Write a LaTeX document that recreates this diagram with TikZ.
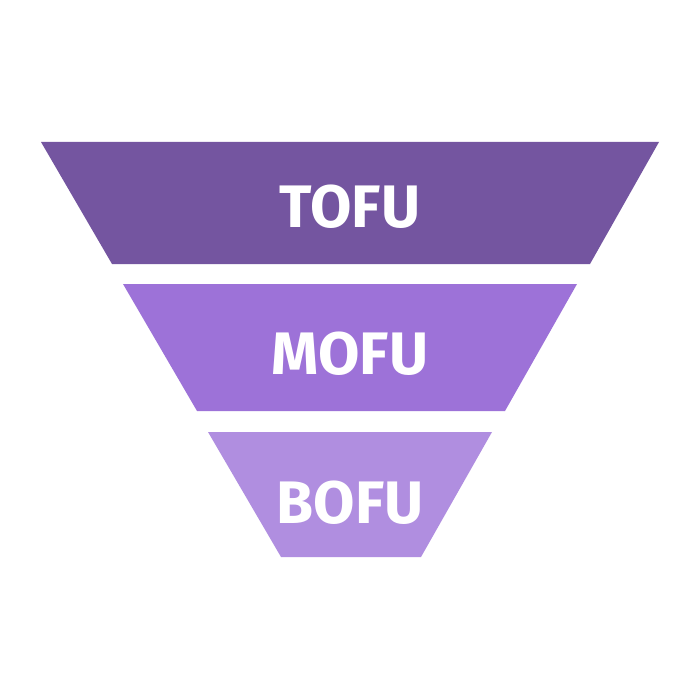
\documentclass[tikz,border=0pt]{standalone}
\usepackage{fontspec}
\setmainfont{Fira Sans}
\definecolor{tofu}{HTML}{7455A0}
\definecolor{mofu}{HTML}{9D72D8}
\definecolor{bofu}{HTML}{B08EE0}
\tikzset{
  stage/.style={text=white, font=\fontsize{60}{62}\selectfont\bfseries, inner sep=0pt},
}
\begin{document}
\begin{tikzpicture}[x=1pt, y=-1pt, line width=0pt]
\useasboundingbox[fill=white] (0,0) rectangle (700,700) ;
% box TOFU
\coordinate (A) at (41,142) ;
\coordinate (B) at (659,142) ;
\coordinate (C) at (590,264) ;
\coordinate (D) at (112,264) ;
\fill[tofu] (A) -- (B) -- (C) -- (D) -- cycle ;
\node[stage] (tofu) at (350,207) {TOFU} ;
%% box MOFU
\coordinate (A1) at (123,284) ;
\coordinate (B1) at (577,284) ;
\coordinate (C1) at (505,411) ;
\coordinate (D1) at (197,411) ;
\fill[mofu] (A1) -- (B1) -- (C1) -- (D1) -- cycle ;
\node[stage] (mofu) at (350,354) {MOFU} ;
%% box BOFU
\coordinate (A2) at (208,432) ;
\coordinate (B2) at (492,432) ;
\coordinate (C2) at (421,557) ;
\coordinate (D2) at (281,557) ;
\fill[bofu] (A2) -- (B2) -- (C2) -- (D2) -- cycle ;
\node[stage] (bofu) at (350,503) {BOFU} ;
\end{tikzpicture}
\end{document}
